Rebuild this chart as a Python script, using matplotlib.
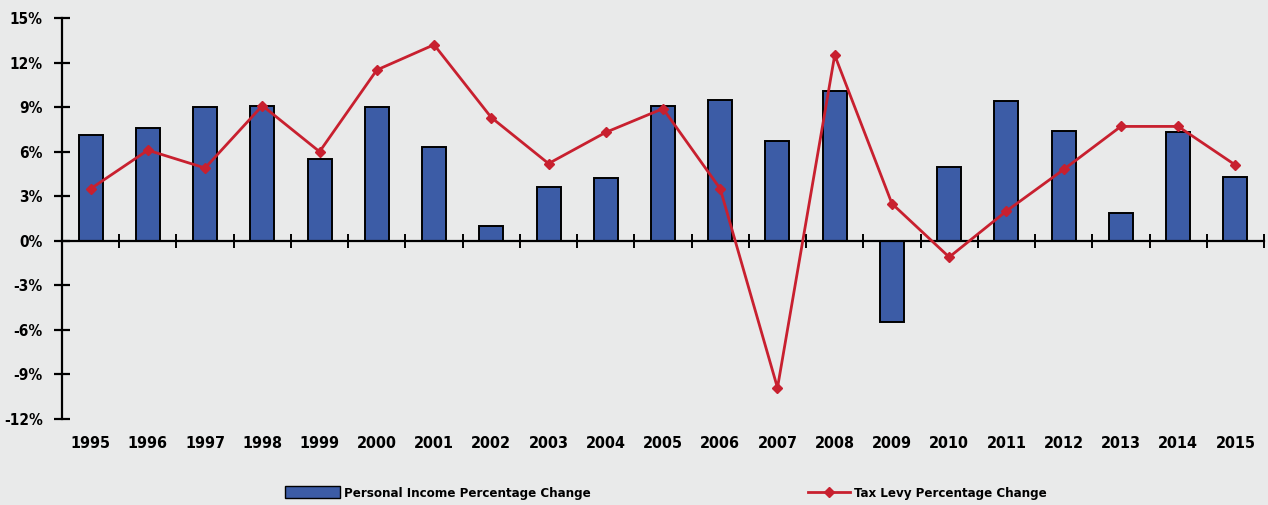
import matplotlib.pyplot as plt
from matplotlib.lines import Line2D
from matplotlib.patches import Patch
from matplotlib.ticker import FixedLocator

plt.rcParams['font.family'] = ['DejaVu Sans']
plt.rcParams['font.stretch'] = 'condensed'

years = list(range(1995, 2016))
personal_income = [7.1, 7.6, 9.0, 9.1, 5.5, 9.0, 6.3, 1.0, 3.6, 4.2, 9.1,
                   9.5, 6.7, 10.1, -5.5, 5.0, 9.4, 7.4, 1.9, 7.3, 4.3]
tax_levy = [3.5, 6.1, 4.9, 9.1, 6.0, 11.5, 13.2, 8.3, 5.2, 7.3, 8.9,
            3.5, -9.9, 12.5, 2.5, -1.1, 2.0, 4.8, 7.7, 7.7, 5.1]
y_ticks = [-12, -9, -6, -3, 0, 3, 6, 9, 12, 15]

bg = '#e9eaea'
bar_color = '#3c5ca6'
line_color = '#c8202f'

fig = plt.figure(figsize=(12.68, 5.05), dpi=100, facecolor=bg)
ax = fig.add_axes([62 / 1268, 1 - 419 / 505, 1202 / 1268, 401 / 505])
ax.set_facecolor(bg)

x = list(range(len(years)))
ax.bar(x, personal_income, width=0.42, color=bar_color,
       edgecolor='black', linewidth=1.4, zorder=2)
ax.plot(x, tax_levy, color=line_color, linewidth=2, marker='D',
        markersize=5.5, zorder=3)

ax.set_xlim(-0.5, len(years) - 0.5)
ax.set_ylim(-12, 15)

for side in ('top', 'right'):
    ax.spines[side].set_visible(False)
ax.spines['bottom'].set_position(('data', 0))
ax.spines['left'].set_linewidth(1.6)
ax.spines['bottom'].set_linewidth(1.6)

ax.set_yticks(y_ticks)
ax.set_yticklabels([f'{v}%' for v in y_ticks], fontsize=11, fontweight='bold')
ax.tick_params(axis='y', direction='inout', length=12, width=1.6, pad=8)

ax.xaxis.set_major_locator(FixedLocator([i + 0.5 for i in x]))
ax.set_xticklabels([])
ax.tick_params(axis='x', direction='inout', length=10, width=1.4)

for i, yr in zip(x, years):
    ax.text(i, -0.06, str(yr), transform=ax.get_xaxis_transform(),
            ha='center', va='center', fontsize=11.5, fontweight='bold')

bar_handle = Patch(facecolor=bar_color, edgecolor='black', linewidth=1)
line_handle = Line2D([], [], color=line_color, linewidth=2, marker='D',
                     markersize=5)
leg1 = fig.legend([bar_handle], ['Personal Income Percentage Change'],
                  loc='center left', bbox_to_anchor=(285 / 1268, 1 - 493 / 505),
                  frameon=False, fontsize=9.5, handlelength=4.2, handleheight=1.0,
                  handletextpad=0.3, borderpad=0, borderaxespad=0)
leg2 = fig.legend([line_handle], ['Tax Levy Percentage Change'],
                  loc='center left', bbox_to_anchor=(808 / 1268, 1 - 493 / 505),
                  frameon=False, fontsize=9.5, handlelength=3.2,
                  handletextpad=0.3, borderpad=0, borderaxespad=0)
for leg in (leg1, leg2):
    for t in leg.get_texts():
        t.set_fontweight('bold')

fig.savefig('out.png', dpi=100, facecolor=bg)
